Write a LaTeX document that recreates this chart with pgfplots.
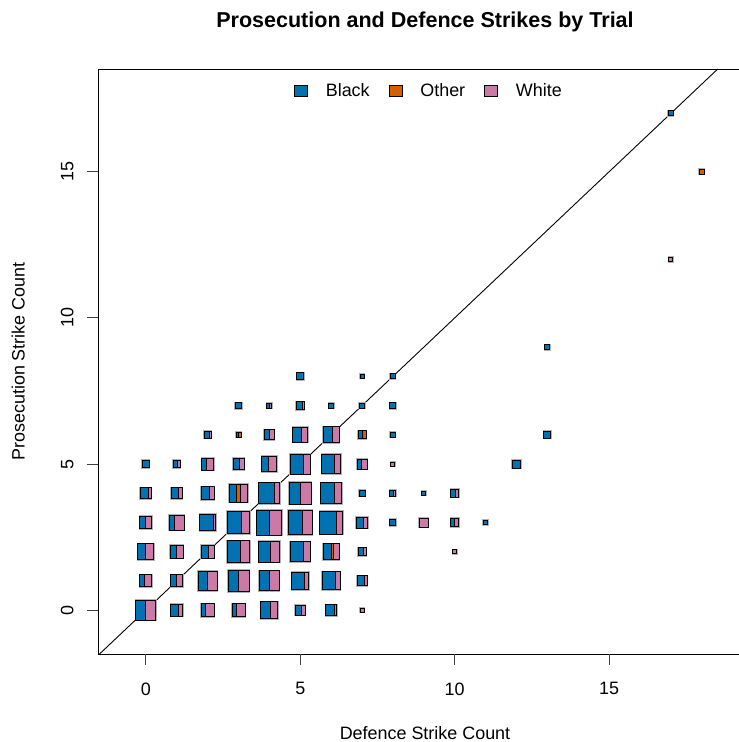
\documentclass[border=0pt]{standalone}
\usepackage{pgfplots}
\pgfplotsset{compat=1.18}
\usepackage{pgfplotstable}
\usepackage{fontspec}
\setmainfont{Liberation Sans}
\definecolor{cB}{HTML}{0072B2}
\definecolor{cO}{HTML}{D55E00}
\definecolor{cW}{HTML}{CC79A7}

\pgfdeclareplotmark{splitsq}{%
  \pgfmathsetmacro\SQhs{-\SQsz/2}%
  \pgfmathsetmacro\SQwb{\SQsz*\SQfb}%
  \pgfmathsetmacro\SQwo{\SQsz*\SQfo}%
  \pgfmathsetmacro\SQww{\SQsz*\SQfw}%
  \pgfmathsetmacro\SQxo{\SQhs+\SQwb}%
  \pgfmathsetmacro\SQxw{\SQxo+\SQwo}%
  \pgfsetlinewidth{2.2bp}%
  \pgfsetstrokecolor{black!30}%
  \pgfpathrectangle{\pgfpoint{\SQhs bp}{\SQhs bp}}{\pgfpoint{\SQsz bp}{\SQsz bp}}%
  \pgfusepath{stroke}%
  \pgfsetlinewidth{0.9bp}%
  \pgfsetstrokecolor{black}%
  \ifdim\SQwb pt>0.01pt
    \pgfsetfillcolor{cB}%
    \pgfpathrectangle{\pgfpoint{\SQhs bp}{\SQhs bp}}{\pgfpoint{\SQwb bp}{\SQsz bp}}%
    \pgfusepath{fill,stroke}%
  \fi
  \ifdim\SQwo pt>0.01pt
    \pgfsetfillcolor{cO}%
    \pgfpathrectangle{\pgfpoint{\SQxo bp}{\SQhs bp}}{\pgfpoint{\SQwo bp}{\SQsz bp}}%
    \pgfusepath{fill,stroke}%
  \fi
  \ifdim\SQww pt>0.01pt
    \pgfsetfillcolor{cW}%
    \pgfpathrectangle{\pgfpoint{\SQxw bp}{\SQhs bp}}{\pgfpoint{\SQww bp}{\SQsz bp}}%
    \pgfusepath{fill,stroke}%
  \fi
}

% x = defence strikes, y = prosecution strikes, s = square side (px),
% b/o/w = share of Black / Other / White
\pgfplotstableread{
x y s b o w
0 0 20 0.50 0 0.50
1 0 12 0.63 0 0.37
2 0 13 0.37 0 0.63
3 0 13 0.37 0 0.63
4 0 17 0.54 0 0.46
5 0 10 0.60 0 0.40
6 0 11 0.80 0 0.20
7 0 4 0 0 1
0 1 12 0.40 0 0.60
1 1 12 0.50 0 0.50
2 1 19 0.50 0 0.50
3 1 21 0.48 0 0.52
4 1 20 0.50 0 0.50
5 1 17 0.72 0 0.28
6 1 18 0.76 0 0.24
7 1 10 0.72 0 0.28
0 2 16 0.50 0 0.50
1 2 13 0.47 0 0.53
2 2 13 0.55 0 0.45
3 2 22 0.58 0 0.42
4 2 21 0.53 0 0.47
5 2 20 0.67 0 0.33
6 2 16 0.55 0.10 0.35
7 2 8 0.65 0 0.35
10 2 4 0 0 1
0 3 12 0.50 0 0.50
1 3 15 0.38 0 0.62
2 3 16 0.85 0 0.15
3 3 22 0.63 0 0.37
4 3 25 0.50 0 0.50
5 3 24 0.58 0 0.42
6 3 23 0.74 0 0.26
7 3 11 0.65 0 0.35
8 3 6 1 0 0
9 3 9 0 0 1
10 3 8 0.50 0 0.50
11 3 4 1 0 0
0 4 11 0.70 0 0.30
1 4 11 0.65 0 0.35
2 4 13 0.65 0 0.35
3 4 18 0.40 0.20 0.40
4 4 21 0.72 0 0.28
5 4 22 0.50 0 0.50
6 4 21 0.65 0 0.35
7 4 6 1 0 0
8 4 6 0.60 0 0.40
9 4 4 1 0 0
10 4 8 0.60 0 0.40
0 5 7 1 0 0
1 5 7 0.55 0 0.45
2 5 12 0.43 0 0.57
3 5 11 0.55 0 0.45
4 5 15 0.43 0 0.57
5 5 20 0.67 0 0.33
6 5 19 0.65 0 0.35
7 5 10 0.45 0 0.55
8 5 4 0 0 1
12 5 8 1 0 0
2 6 7 0.70 0 0.30
3 6 5 0.50 0.50 0
4 6 10 0.50 0 0.50
5 6 15 0.60 0 0.40
6 6 16 0.60 0 0.40
7 6 8 0.50 0.50 0
8 6 5 1 0 0
13 6 7 1 0 0
3 7 6 1 0 0
4 7 5 0.50 0 0.50
5 7 8 0.75 0 0.25
6 7 5 1 0 0
7 7 5 1 0 0
8 7 6 1 0 0
5 8 7 1 0 0
7 8 4 1 0 0
8 8 5 1 0 0
13 9 5 1 0 0
17 12 4 0 0 1
18 15 5 0 1 0
17 17 5 1 0 0
}\cells

\begin{document}
\begin{tikzpicture}
\begin{axis}[
  at={(98bp,88bp)}, anchor=south west,
  scale only axis, width=654bp, height=585bp,
  xmin=-1.55, xmax=19.63, ymin=-1.5, ymax=18.52,
  clip=false,
  xtick={0,5,10,15}, ytick={0,5,10,15},
  xtick pos=left, ytick pos=left,
  tick align=outside, major tick length=11bp,
  every tick/.style={black!75, line width=1bp},
  axis line style={line width=0.8bp},
  /pgf/number format/assume math mode=true,
  ticklabel style={font=\fontsize{18}{20}\selectfont, black},
  xticklabel style={yshift=-14bp},
  yticklabel style={rotate=90, anchor=south, yshift=10bp},
  title={Prosecution and Defence Strikes by Trial},
  title style={font=\bfseries\fontsize{21.6}{24}\selectfont, at={(0.5,1.070)}, anchor=center},
  xlabel={Defence Strike Count},
  ylabel={Prosecution Strike Count},
  xlabel style={font=\fontsize{18}{20}\selectfont, at={(0.5,-0.135)}, anchor=center},
  ylabel style={font=\fontsize{18}{20}\selectfont, at={(-0.122,0.5)}, anchor=center},
  legend style={at={(0.506,0.982)}, anchor=north, draw=none, fill=none,
    legend columns=3, font=\fontsize{18}{20}\selectfont,
    /tikz/every odd column/.append style={column sep=16bp},
    /tikz/every even column/.append style={column sep=17bp}},
  legend image code/.code={\draw[#1,draw=black,line width=0.7bp] (0bp,-5.5bp) rectangle (13bp,5.5bp);},
]
\addlegendimage{fill=cB}\addlegendentry{Black}
\addlegendimage{fill=cO}\addlegendentry{Other}
\addlegendimage{fill=cW}\addlegendentry{White}
\addplot[only marks, mark=splitsq, forget plot,
  visualization depends on={\thisrow{s}\as\SQsz},
  visualization depends on={\thisrow{b}\as\SQfb},
  visualization depends on={\thisrow{o}\as\SQfo},
  visualization depends on={\thisrow{w}\as\SQfw}] table[x=x,y=y] {\cells};
\addplot[black, line width=0.9bp, forget plot] coordinates {(-1.5,-1.5) (18.52,18.52)};
% outward tick marks (11 px)
\addplot[black!75, line width=1bp, forget plot] coordinates {(0,-1.5) (0,-1.876)};
\addplot[black!75, line width=1bp, forget plot] coordinates {(5,-1.5) (5,-1.876)};
\addplot[black!75, line width=1bp, forget plot] coordinates {(10,-1.5) (10,-1.876)};
\addplot[black!75, line width=1bp, forget plot] coordinates {(15,-1.5) (15,-1.876)};
\addplot[black!75, line width=1bp, forget plot] coordinates {(-1.55,0) (-1.906,0)};
\addplot[black!75, line width=1bp, forget plot] coordinates {(-1.55,5) (-1.906,5)};
\addplot[black!75, line width=1bp, forget plot] coordinates {(-1.55,10) (-1.906,10)};
\addplot[black!75, line width=1bp, forget plot] coordinates {(-1.55,15) (-1.906,15)};
\end{axis}
\pgfresetboundingbox
\path[use as bounding box] (0,0) rectangle (739bp,742bp);
\end{tikzpicture}
\end{document}
